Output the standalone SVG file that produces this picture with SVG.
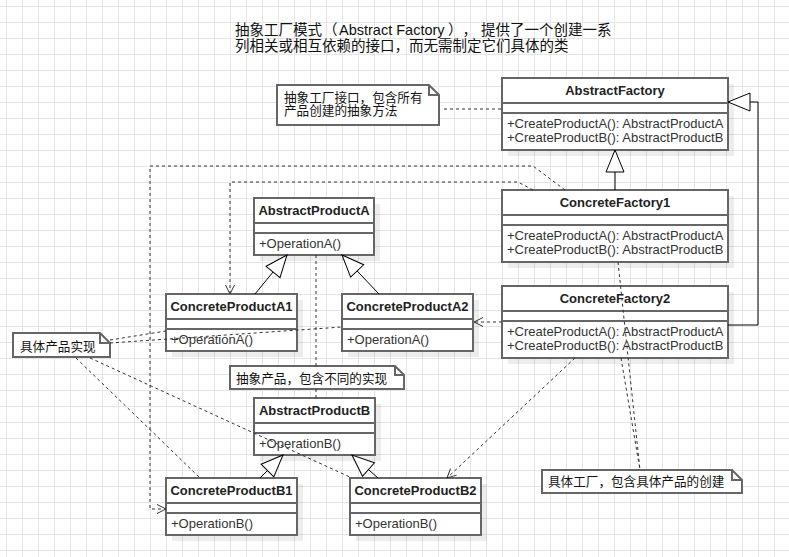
<svg xmlns="http://www.w3.org/2000/svg" width="789" height="557" viewBox="0 0 789 557">
<defs>
<pattern id="grid" width="16" height="16" patternUnits="userSpaceOnUse"><path d="M6.5 0V16M0 6.5H16" stroke="#e6e6e6" stroke-width="1" fill="none"/></pattern>
<marker id="gen" markerUnits="userSpaceOnUse" markerWidth="24" markerHeight="20" viewBox="-1 -1 24 20" refX="22" refY="9" orient="auto"><path d="M0,0 L22,9 L0,18 Z" fill="#fff" stroke="#000"/></marker>
<marker id="open" markerUnits="userSpaceOnUse" markerWidth="12" markerHeight="12" viewBox="-1 -1 12 12" refX="9" refY="4.5" orient="auto"><path d="M0,0 L9,4.5 L0,9" fill="none" stroke="#333"/></marker>
<style>
.box{fill:#fff;stroke:#666;stroke-width:2}
.sep{stroke:#666;stroke-width:2;fill:none}
.sh{fill:#000;fill-opacity:.07}
.t{font-family:"Liberation Sans",Arial,sans-serif;font-size:13px;font-weight:bold;text-anchor:middle;fill:#222}
.m{font-family:"Liberation Sans",Arial,sans-serif;font-size:13px;fill:#333}
.n{font-family:"Liberation Sans","Noto Sans CJK SC",sans-serif;font-size:12.6px;fill:#111;text-spacing-trim:space-all}
.ttl{font-family:"Liberation Sans","Noto Sans CJK SC",sans-serif;font-size:14.5px;fill:#111;text-spacing-trim:space-all}
.note{fill:#fff;stroke:#666;stroke-width:2}
.fold{fill:none;stroke:#666;stroke-width:2}
.dep{fill:none;stroke:#333;stroke-dasharray:3 3}
.gen{fill:none;stroke:#000}
</style>
</defs>
<rect width="789" height="557" fill="#fff"/>
<rect width="789" height="557" fill="url(#grid)"/>

<g id="title">
<text class="ttl" y="35"><tspan x="235">抽象工厂模式</tspan><tspan x="323">（</tspan><tspan x="339">Abstract Factory</tspan><tspan x="448">），</tspan><tspan x="481">提供了一个创建一系</tspan></text>
<text class="ttl" x="235" y="50.5">列相关或相互依赖的接口，而无需制定它们具体的类</text>
</g>

<g id="AbstractFactory">
<rect class="sh" x="508" y="84" width="226" height="72"/>
<rect class="box" x="502" y="78" width="226" height="72"/>
<path class="sep" d="M502 103H728M502 113H728"/>
<text class="t" x="615" y="95">AbstractFactory</text>
<text class="m" x="507" y="128">+CreateProductA(): AbstractProductA</text>
<text class="m" x="507" y="142">+CreateProductB(): AbstractProductB</text>
</g>

<g id="ConcreteFactory1">
<rect class="sh" x="508" y="196" width="226" height="72"/>
<rect class="box" x="502" y="190" width="226" height="72"/>
<path class="sep" d="M502 215H728M502 225H728"/>
<text class="t" x="615" y="207">ConcreteFactory1</text>
<text class="m" x="507" y="240">+CreateProductA(): AbstractProductA</text>
<text class="m" x="507" y="254">+CreateProductB(): AbstractProductB</text>
</g>

<g id="ConcreteFactory2">
<rect class="sh" x="508" y="292" width="226" height="72"/>
<rect class="box" x="502" y="286" width="226" height="72"/>
<path class="sep" d="M502 311H728M502 321H728"/>
<text class="t" x="615" y="303">ConcreteFactory2</text>
<text class="m" x="507" y="336">+CreateProductA(): AbstractProductA</text>
<text class="m" x="507" y="350">+CreateProductB(): AbstractProductB</text>
</g>

<g id="AbstractProductA">
<rect class="sh" x="260" y="204" width="120" height="57"/>
<rect class="box" x="254" y="198" width="120" height="57"/>
<path class="sep" d="M254 223H374M254 233H374"/>
<text class="t" x="314" y="215">AbstractProductA</text>
<text class="m" x="259" y="248">+OperationA()</text>
</g>

<g id="ConcreteProductA1">
<rect class="sh" x="172" y="300" width="131" height="57"/>
<rect class="box" x="166" y="294" width="131" height="57"/>
<path class="sep" d="M166 319H297M166 329H297"/>
<text class="t" x="231.5" y="311">ConcreteProductA1</text>
<text class="m" x="171" y="344">+OperationA()</text>
</g>

<g id="ConcreteProductA2">
<rect class="sh" x="348" y="300" width="131" height="57"/>
<rect class="box" x="342" y="294" width="131" height="57"/>
<path class="sep" d="M342 319H473M342 329H473"/>
<text class="t" x="407.5" y="311">ConcreteProductA2</text>
<text class="m" x="347" y="344">+OperationA()</text>
</g>

<g id="AbstractProductB">
<rect class="sh" x="260" y="404" width="121" height="57"/>
<rect class="box" x="254" y="398" width="121" height="57"/>
<path class="sep" d="M254 423H375M254 433H375"/>
<text class="t" x="314.5" y="415">AbstractProductB</text>
<text class="m" x="259" y="448">+OperationB()</text>
</g>

<g id="ConcreteProductB1">
<rect class="sh" x="172" y="484" width="131" height="57"/>
<rect class="box" x="166" y="478" width="131" height="57"/>
<path class="sep" d="M166 503H297M166 513H297"/>
<text class="t" x="231.5" y="495">ConcreteProductB1</text>
<text class="m" x="171" y="528">+OperationB()</text>
</g>

<g id="ConcreteProductB2">
<rect class="sh" x="356" y="484" width="131" height="57"/>
<rect class="box" x="350" y="478" width="131" height="57"/>
<path class="sep" d="M350 503H481M350 513H481"/>
<text class="t" x="415.5" y="495">ConcreteProductB2</text>
<text class="m" x="355" y="528">+OperationB()</text>
</g>

<g id="note-factory-interface">
<path class="note" d="M277 85H429L439 95V125H277Z"/>
<path class="fold" d="M429 85V95H439"/>
<text class="n" x="284" y="101.5">抽象工厂接口，包含所有</text>
<text class="n" x="284" y="115.3">产品创建的抽象方法</text>
</g>

<g id="note-concrete-product">
<path class="note" d="M13 333H100L110 343V357H13Z"/>
<path class="fold" d="M100 333V343H110"/>
<text class="n" x="20" y="350.8">具体产品实现</text>
</g>

<g id="note-abstract-product">
<path class="note" d="M230 366H395L404 375V389H230Z"/>
<path class="fold" d="M395 366V375H404"/>
<text class="n" x="236" y="382.5">抽象产品，包含不同的实现</text>
</g>

<g id="note-concrete-factory">
<path class="note" d="M542 470H732L742 480V493H542Z"/>
<path class="fold" d="M732 470V480H742"/>
<text class="n" x="548" y="486.2">具体工厂，包含具体产品的创建</text>
</g>

<g id="connectors">
<path class="gen" d="M615 190V150" marker-end="url(#gen)"/>
<path class="gen" d="M728 325H758V102H728" marker-end="url(#gen)"/>
<path class="gen" d="M255 294L287 255" marker-end="url(#gen)"/>
<path class="gen" d="M379 294L342 255" marker-end="url(#gen)"/>
<path class="gen" d="M260 478L283 455" marker-end="url(#gen)"/>
<path class="gen" d="M378 478L352 455" marker-end="url(#gen)"/>

<path class="dep" d="M565 190L533 166H150V509H166" marker-end="url(#open)"/>
<path class="dep" d="M533 190L518 182H230V294" marker-end="url(#open)"/>
<path class="dep" d="M502 322H474" marker-end="url(#open)"/>
<path class="dep" d="M575 358L447 478" marker-end="url(#open)"/>

<path class="dep" d="M444 109H502"/>
<path class="dep" d="M316 366V255M316 389V398"/>
<path class="dep" d="M110 340L166 331M110 343L342 327M76 358L200 478M90 358L352 478"/>
<path class="dep" d="M618 262L640 470M621 358L640 470"/>
</g>
</svg>
